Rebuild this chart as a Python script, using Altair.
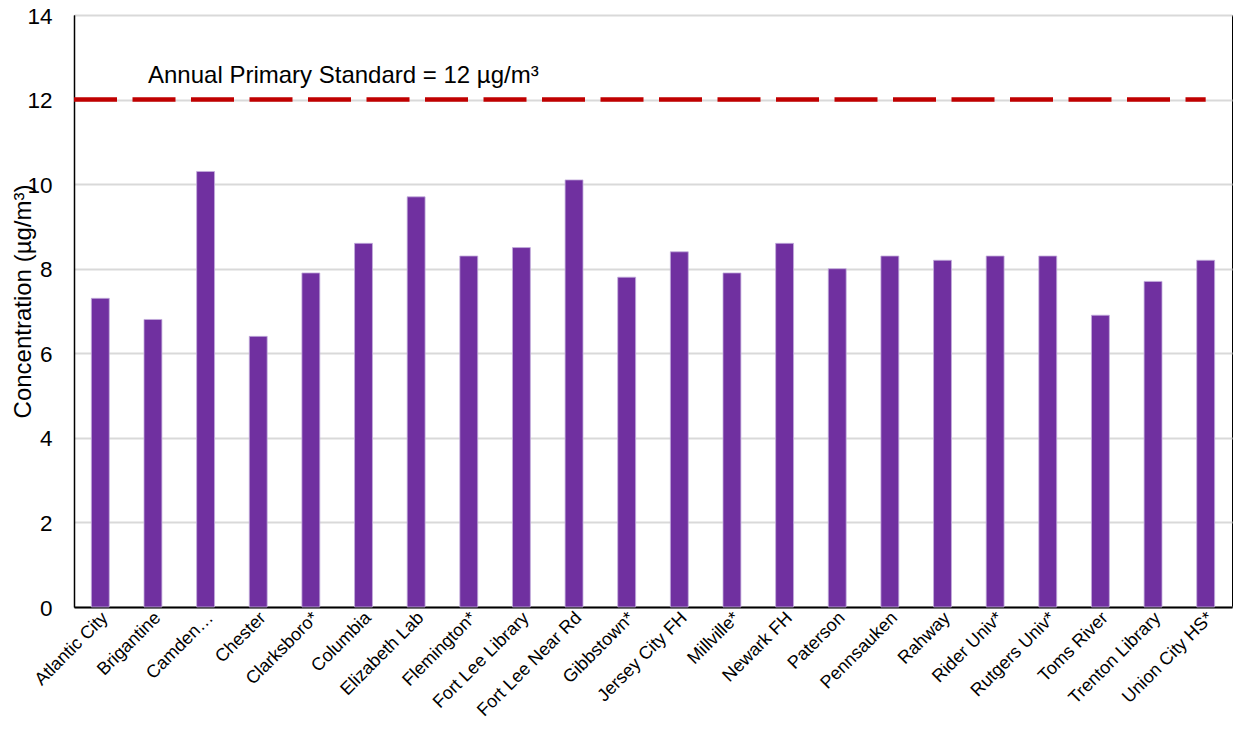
import altair as alt
import pandas as pd

sites = ["Atlantic City", "Brigantine", "Camden…", "Chester", "Clarksboro*", "Columbia",
         "Elizabeth Lab", "Flemington*", "Fort Lee Library", "Fort Lee Near Rd", "Gibbstown*",
         "Jersey City FH", "Millville*", "Newark FH", "Paterson", "Pennsauken", "Rahway",
         "Rider Univ*", "Rutgers Univ*", "Toms River", "Trenton Library", "Union City HS*"]
values = [7.3, 6.8, 10.3, 6.4, 7.9, 8.6, 9.7, 8.3, 8.5, 10.1, 7.8,
          8.4, 7.9, 8.6, 8.0, 8.3, 8.2, 8.3, 8.3, 6.9, 7.7, 8.2]
standard = 12
y_ticks = [0, 2, 4, 6, 8, 10, 12, 14]
annotation = "Annual Primary Standard = 12 µg/m³"

W, H = 1158, 592
step = W / len(sites)
FONT = "Liberation Sans"

df = pd.DataFrame({"site": sites, "value": values})

xscale = alt.Scale(domain=sites, paddingInner=0.66, paddingOuter=0.33)
yscale = alt.Scale(domain=[0, 14], nice=False)

bars = alt.Chart(df).mark_bar(color="#7030A0", stroke="#C3ADDC", strokeWidth=0.8).encode(
    x=alt.X("site:N", scale=xscale, sort=sites,
            axis=alt.Axis(title=None, labelAngle=-45, labelAlign="right", labelBaseline="middle",
                          labelFontSize=18, labelFont=FONT, labelColor="#000", labelPadding=8,
                          labelOffset=5,
                          ticks=False, domainColor="#000", domainWidth=2, grid=False,
                          labelOverlap=False, labelLimit=300)),
    y=alt.Y("value:Q", scale=yscale,
            axis=alt.Axis(title="Concentration (µg/m³)", values=y_ticks, format="d",
                          labelFontSize=22.5, labelFont=FONT, labelColor="#000", labelPadding=22,
                          labelOffset=1,
                          ticks=False, domainColor="#000", domainWidth=1.5,
                          gridColor="#D9D9D9", gridWidth=2,
                          titleFont=FONT, titleFontSize=24, titleFontWeight="normal",
                          titleColor="#000", titleAngle=-90, titleBaseline="alphabetic",
                          titleAlign="center", titleX=-44, titleY=286)),
)

std_df = pd.DataFrame({"value": [standard], "label": [annotation]})

rule = alt.Chart(std_df).mark_rule(color="#C00000", strokeWidth=4.5, strokeDash=[43, 15.5]).encode(
    y=alt.Y("value:Q", scale=yscale),
    x=alt.value(0),
    x2=alt.value(W - step / 2),
)

text = alt.Chart(std_df).mark_text(align="left", baseline="alphabetic", dy=-17,
                                   fontSize=24, font=FONT, color="#000").encode(
    y=alt.Y("value:Q", scale=yscale),
    x=alt.value(74),
    text="label:N",
)

chart = alt.layer(bars, rule, text).properties(
    width=W, height=H,
    autosize=alt.AutoSizeParams(type="none"),
    padding={"left": 66, "top": 7, "right": 1, "bottom": 117},
).configure_view(stroke="#000", strokeWidth=1)

chart.save("out.html", embed_options={"renderer": "svg", "actions": False})
